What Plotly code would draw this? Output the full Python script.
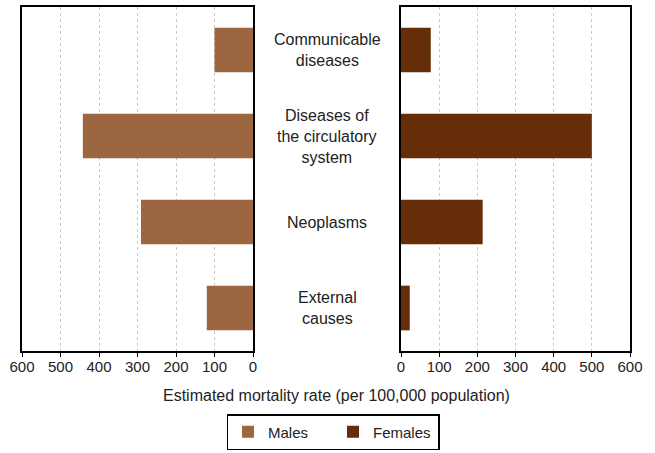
import plotly.graph_objects as go

categories = ["Communicable diseases", "Diseases of the circulatory system", "Neoplasms", "External causes"]
category_labels = ["Communicable<br>diseases", "Diseases of<br>the circulatory<br>system", "Neoplasms", "External<br>causes"]
males = [100, 442, 291, 120]
females = [78, 500, 214, 23]
tick_vals = [0, 100, 200, 300, 400, 500, 600]
tick_text = ["0", "100", "200", "300", "400", "500", "600"]

W, H = 655, 453
FONT = "Liberation Sans, Arial, sans-serif"
male_color = "#9C6640"
female_color = "#662E08"

fig = go.Figure()
fig.add_trace(go.Bar(y=categories, x=males, orientation="h", name="Males",
                     marker=dict(color=male_color, line=dict(width=0)), width=0.52,
                     xaxis="x", yaxis="y"))
fig.add_trace(go.Bar(y=categories, x=females, orientation="h", name="Females",
                     marker=dict(color=female_color, line=dict(width=0)), width=0.52,
                     xaxis="x2", yaxis="y2"))

ydom = [1 - 351 / H, 1 - 7 / H]
common_x = dict(tickvals=tick_vals, ticktext=tick_text, showline=True, linecolor="black",
                linewidth=1.5, mirror=True, ticks="outside", ticklen=4, tickcolor="black",
                showgrid=True, gridcolor="#c8c8c8", griddash="dot", gridwidth=1,
                zeroline=False, tickfont=dict(size=15, color="#222", family=FONT),
                ticklabelstandoff=-3, automargin=False)
common_y = dict(domain=ydom, showline=True, linecolor="black", linewidth=1.5, mirror=True,
                showticklabels=False, ticks="", showgrid=False, zeroline=False,
                categoryorder="array", categoryarray=categories, autorange="reversed",
                automargin=False)

fig.update_layout(
    width=W, height=H,
    margin=dict(l=0, r=0, t=0, b=0, autoexpand=False),
    paper_bgcolor="white", plot_bgcolor="white",
    font=dict(family=FONT, size=16, color="#222"),
    bargap=0.48,
    xaxis=dict(domain=[22 / W, 253 / W], range=[600, 0], anchor="y", **common_x),
    xaxis2=dict(domain=[401 / W, 630 / W], range=[0, 600], anchor="y2", **common_x),
    yaxis=dict(anchor="x", **common_y),
    yaxis2=dict(anchor="x2", **common_y),
    showlegend=True,
    legend=dict(orientation="h", x=333 / W, xanchor="center", y=3 / H, yanchor="bottom",
                bordercolor="black", borderwidth=1.5, font=dict(size=15, family=FONT, color="#222"),
                entrywidth=60, traceorder="normal"),
)

for cat, lab in zip(categories, category_labels):
    fig.add_annotation(x=327 / W, xref="paper", y=cat, yref="y", text=lab, showarrow=False,
                       font=dict(size=16, family=FONT, color="#222"), align="center",
                       xanchor="center", yanchor="middle")

fig.add_annotation(x=336 / W, xref="paper", y=1 - 395 / H, yref="paper",
                   text="Estimated mortality rate (per 100,000 population)", showarrow=False,
                   xanchor="center", yanchor="middle",
                   font=dict(size=16, family=FONT, color="#222"))

fig.write_html("out.html", config={"displayModeBar": False},
               post_script="document.body.style.margin='0';document.body.style.overflow='hidden';")
